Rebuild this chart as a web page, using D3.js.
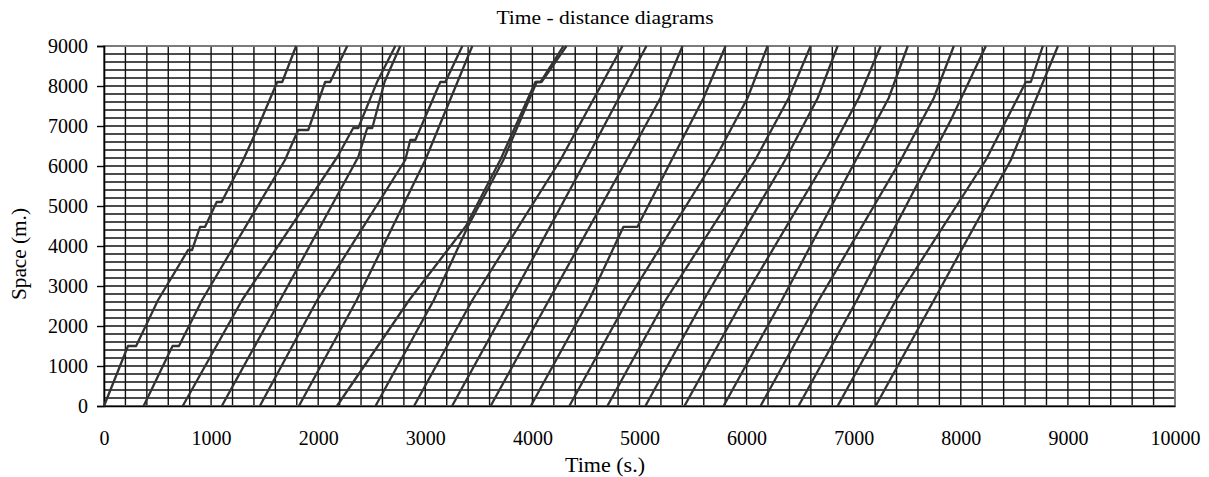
<!DOCTYPE html>
<html>
<head>
<meta charset="utf-8">
<script src="https://cdn.jsdelivr.net/npm/d3@7"></script>
<style>
body { margin: 0; background: #fff; }
text { font-family: "Liberation Serif", "Times New Roman", serif; fill: #000; }
</style>
</head>
<body>
<script>
var width = 1209, height = 477;

// one list per train: [time (s), position (m)],
// a repeated position is a stop (arrival, departure)
var trains = [
    [[0, 0], [224, 1500], [300, 1500], [505, 2650], [785, 3900], [822, 3900], [897, 4480], [944, 4480],
     [1052, 5100], [1098, 5100], [1299, 6150], [1427, 6900], [1617, 8100], [1664, 8100], [1794, 9000]],
    [[370, 0], [640, 1500], [700, 1500], [916, 2650], [1690, 6150], [1813, 6900], [1907, 6900],
     [2065, 8100], [2112, 8100], [2271, 9000]],
    [[735, 0], [1290, 2650], [2178, 6225], [2327, 6950], [2374, 6950], [2551, 8108], [2720, 9000]],
    [[1100, 0], [1645, 2650], [2374, 6225], [2458, 6950], [2505, 6950], [2620, 8108], [2766, 9000]],
    [[1455, 0], [1991, 2650], [2813, 6150], [2860, 6650], [2907, 6650], [3140, 8100], [3187, 8100], [3346, 9000]],
    [[1820, 0], [2360, 2650], [3000, 6150], [3439, 9000]],
    [[2175, 0], [2850, 2650], [3380, 4500], [3700, 6150], [4028, 8100], [4075, 8100], [4290, 9000]],
    [[2535, 0], [3080, 2650], [3400, 4500], [3729, 6150], [4040, 8100], [4085, 8100], [4318, 9000]],
    [[2895, 0], [3440, 2650], [4262, 6150], [4841, 9000]],
    [[3250, 0], [3795, 2650], [4500, 6150], [5065, 9000]],
    [[3610, 0], [4155, 2650], [4880, 6150], [5196, 7700], [5402, 9000]],
    [[3985, 0], [4530, 2650], [4850, 4480], [4981, 4480], [5300, 6150], [5598, 7700], [5804, 9000]],
    [[4345, 0], [4890, 2650], [5700, 6150], [6009, 7700], [6196, 9000]],
    [[4700, 0], [5245, 2650], [6080, 6150], [6393, 7700], [6598, 9000]],
    [[5055, 0], [5600, 2650], [6360, 6150], [6664, 7700], [6850, 9000]],
    [[5420, 0], [5965, 2650], [6740, 6150], [7047, 7700], [7252, 9000]],
    [[5785, 0], [6330, 2650], [7020, 6150], [7327, 7700], [7505, 9000]],
    [[6130, 0], [6675, 2650], [7440, 6150], [7748, 7700], [7935, 9000]],
    [[6485, 0], [7030, 2650], [7907, 7150], [8234, 9000]],
    [[6850, 0], [7395, 2650], [8234, 6150], [8607, 8100], [8654, 8100], [8766, 9000]],
    [[7205, 0], [7750, 2650], [8467, 6150], [8907, 9000]]
];
var xTicks = [0, 1000, 2000, 3000, 4000, 5000, 6000, 7000, 8000, 9000, 10000];
var yTicks = [0, 1000, 2000, 3000, 4000, 5000, 6000, 7000, 8000, 9000];
var xGrid = d3.range(0, 10001, 200);
var yGrid = d3.range(0, 9001, 200);

var x = d3.scaleLinear().domain([0, 10000]).range([104, 1175]);
var y = d3.scaleLinear().domain([0, 9000]).range([406, 46]);

var svg = d3.select("body")
    .append("svg")
    .attr("width", width)
    .attr("height", height);

// grid
svg.append("g")
    .selectAll("line")
    .data(xGrid)
    .enter()
    .append("line")
    .attr("x1", function(d) { return x(d); })
    .attr("x2", function(d) { return x(d); })
    .attr("y1", y(0))
    .attr("y2", y(9000))
    .attr("stroke", "#111")
    .attr("stroke-width", 1.4);

svg.append("g")
    .selectAll("line")
    .data(yGrid)
    .enter()
    .append("line")
    .attr("x1", x(0))
    .attr("x2", x(10000))
    .attr("y1", function(d) { return y(d); })
    .attr("y2", function(d) { return y(d); })
    .attr("stroke", "#111")
    .attr("stroke-width", 1.4);

// frame
svg.append("rect")
    .attr("x", x(0))
    .attr("y", y(9000))
    .attr("width", x(10000) - x(0))
    .attr("height", y(0) - y(9000))
    .attr("fill", "none")
    .attr("stroke", "#888")
    .attr("stroke-width", 1.6);

// axes
var yAxis = svg.append("g")
    .attr("transform", "translate(" + x(0) + ",0)")
    .call(d3.axisLeft(y).tickValues(yTicks).tickSize(7).tickPadding(9).tickFormat(d3.format("d")));
var xAxis = svg.append("g")
    .attr("transform", "translate(0," + y(0) + ")")
    .call(d3.axisBottom(x).tickValues(xTicks).tickSize(0).tickPadding(25).tickFormat(d3.format("d")));

[yAxis, xAxis].forEach(function(a) {
    a.select(".domain").attr("stroke", "#000").attr("stroke-width", 1.6);
    a.selectAll(".tick line").attr("stroke", "#000").attr("stroke-width", 1.4);
    a.selectAll(".tick text")
        .attr("font-family", "Liberation Serif")
        .attr("font-size", "20px")
        .attr("fill", "#000");
});

// train paths
var line = d3.line()
    .x(function(d) { return x(d[0]); })
    .y(function(d) { return y(d[1]); });

svg.append("g")
    .selectAll("path")
    .data(trains)
    .enter()
    .append("path")
    .attr("d", line)
    .attr("fill", "none")
    .attr("stroke", "#333")
    .attr("stroke-width", 2.3)
    .attr("stroke-linejoin", "round");

// titles
svg.append("text")
    .attr("x", 605)
    .attr("y", 24)
    .attr("text-anchor", "middle")
    .attr("font-size", "19px")
    .attr("textLength", 217)
    .attr("lengthAdjust", "spacingAndGlyphs")
    .text("Time - distance diagrams");

svg.append("text")
    .attr("x", 605)
    .attr("y", 472)
    .attr("text-anchor", "middle")
    .attr("font-size", "20px")
    .attr("textLength", 80)
    .attr("lengthAdjust", "spacingAndGlyphs")
    .text("Time (s.)");

svg.append("text")
    .attr("transform", "translate(26,254) rotate(-90)")
    .attr("text-anchor", "middle")
    .attr("font-size", "20px")
    .attr("textLength", 92)
    .attr("lengthAdjust", "spacingAndGlyphs")
    .text("Space (m.)");
</script>
</body>
</html>
